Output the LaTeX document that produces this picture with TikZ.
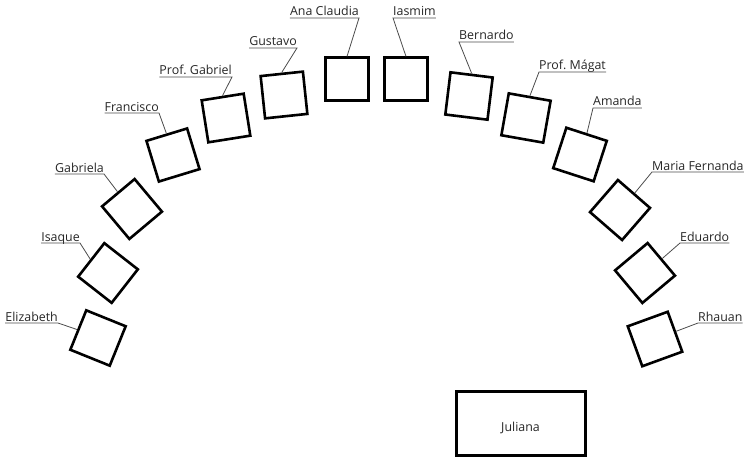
\documentclass[tikz,border=0pt]{standalone}
\usepackage{fontspec}
\setmainfont{Open Sans}

\begin{document}
\begin{tikzpicture}[x=1pt,y=1pt,
    desk/.style={draw, line width=2.6pt, minimum size=42.5pt, inner sep=0pt},
    who/.style={text=black!85, font=\fontsize{12.4}{14}\selectfont, inner xsep=0pt, inner ysep=1.8pt, text height=9pt, text depth=0pt},
    lead/.style={black!70, line width=0.8pt}]
    \useasboundingbox (0,0) rectangle (750,459);
    % desks (left to right)
    \node[desk, rotate=-22] (elizabeth) at (98,121) {};
    \node[desk, rotate=-38] (isaque) at (108,186) {};
    \node[desk, rotate=-50] (gabriela) at (132,250) {};
    \node[desk, rotate=17] (francisco) at (173,304) {};
    \node[desk, rotate=9] (gabriel) at (226,341) {};
    \node[desk, rotate=6] (gustavo) at (284,364) {};
    \node[desk] (ana) at (347,380) {};
    \node[desk] (iasmim) at (406,380) {};
    \node[desk, rotate=-7] (bernardo) at (469,363) {};
    \node[desk, rotate=-10] (magat) at (526,341) {};
    \node[desk, rotate=-18] (amanda) at (580,304.5) {};
    \node[desk, rotate=-41] (maria) at (620,249) {};
    \node[desk, rotate=-50] (eduardo) at (645,186) {};
    \node[desk, rotate=20] (rhauan) at (655,120) {};
    \node[desk, minimum width=129pt, minimum height=64.5pt] (juliana) at (521,35.5) {};
    \node[who, inner ysep=0pt] at (520.5,32) {Juliana};
    % names
    \node[who, anchor=south east] (nelizabeth) at (58,136) {Elizabeth};
    \node[who, anchor=south east] (nisaque) at (80,216) {Isaque};
    \node[who, anchor=south east] (ngabriela) at (104,285) {Gabriela};
    \node[who, anchor=south east] (nfrancisco) at (159,346) {Francisco};
    \node[who, anchor=south east] (ngabriel) at (232,382) {Prof.\ Gabriel};
    \node[who, anchor=south east] (ngustavo) at (297,411) {Gustavo};
    \node[who, anchor=south east] (nana) at (359,441) {Ana Claudia};
    \node[who, anchor=south west] (niasmim) at (393,441) {Iasmim};
    \node[who, anchor=south west] (nbernardo) at (459,417) {Bernardo};
    \node[who, anchor=south west] (nmagat) at (539,387) {Prof.\ Mágat};
    \node[who, anchor=south west] (namanda) at (593,351) {Amanda};
    \node[who, anchor=south west] (nmaria) at (652,287) {Maria Fernanda};
    \node[who, anchor=south west] (neduardo) at (680,216) {Eduardo};
    \node[who, anchor=south west] (nrhauan) at (698,136) {Rhauan};
    % underlines and leaders
    \draw[lead] (nelizabeth.south west) -- (nelizabeth.south east) -- (elizabeth.west);
    \draw[lead] (nisaque.south west) -- (nisaque.south east) -- (isaque.west);
    \draw[lead] (ngabriela.south west) -- (ngabriela.south east) -- (gabriela.west);
    \draw[lead] (nfrancisco.south west) -- (nfrancisco.south east) -- (francisco.north);
    \draw[lead] (ngabriel.south west) -- (ngabriel.south east) -- (gabriel.north);
    \draw[lead] (ngustavo.south west) -- (ngustavo.south east) -- (gustavo.north);
    \draw[lead] (nana.south west) -- (nana.south east) -- (ana.north);
    \draw[lead] (niasmim.south east) -- (niasmim.south west) -- (iasmim.north);
    \draw[lead] (nbernardo.south east) -- (nbernardo.south west) -- (bernardo.north);
    \draw[lead] (nmagat.south east) -- (nmagat.south west) -- (magat.north);
    \draw[lead] (namanda.south east) -- (namanda.south west) -- (amanda.north);
    \draw[lead] (nmaria.south east) -- (nmaria.south west) -- (maria.north);
    \draw[lead] (neduardo.south east) -- (neduardo.south west) -- (eduardo.north);
    \draw[lead] (nrhauan.south east) -- (nrhauan.south west) -- (rhauan.east);
\end{tikzpicture}
\end{document}
